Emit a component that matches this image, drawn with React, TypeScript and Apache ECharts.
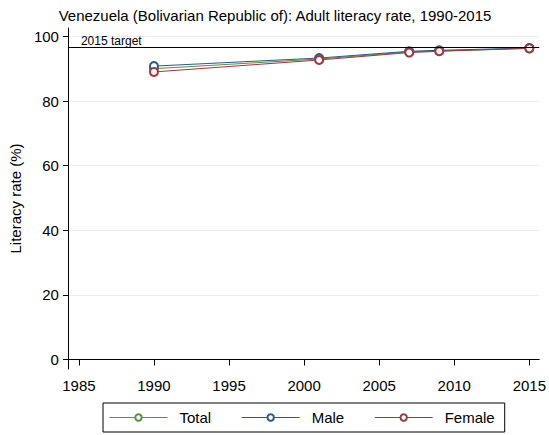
import React, { useEffect, useRef } from "react";
import * as echarts from "echarts";

const years = [1990, 2001, 2007, 2009, 2015];
const totalValues = [90.0, 93.0, 95.2, 95.5, 96.3];
const maleValues = [90.8, 93.3, 95.4, 95.7, 96.4];
const femaleValues = [89.0, 92.7, 95.0, 95.4, 96.3];
const xTicks = [1985, 1990, 1995, 2000, 2005, 2010, 2015];
const yTicks = [0, 20, 40, 60, 80, 100];
const targetValue = 96.5;

const FONT = "'Liberation Sans', Arial, sans-serif";

export default function App() {
  const ref = useRef<HTMLDivElement>(null);
  useEffect(() => {
    if (!ref.current) return;
    const chart = echarts.init(ref.current, null, { renderer: "svg" });
    const mk = (name: string, vals: number[], color: string, withTarget = false) => ({
      name,
      type: "line",
      data: years.map((y, i) => [y, vals[i]]),
      symbol: "emptyCircle",
      symbolSize: 8,
      itemStyle: { color, borderWidth: 1 },
      lineStyle: { color, width: 1 },
      z: 3,
      ...(withTarget
        ? {
            markLine: {
              silent: true,
              symbol: "none",
              lineStyle: { color: "#000", width: 1, type: "solid" },
              label: {
                formatter: "2015 target",
                position: "insideStartTop",
                color: "#000",
                fontFamily: FONT,
                fontSize: 12,
                distance: [13, 1],
              },
              data: [{ yAxis: targetValue }],
            },
          }
        : {}),
    });
    chart.setOption({
      animation: false,
      backgroundColor: "#fff",
      textStyle: { fontFamily: FONT },
      title: {
        text: "Venezuela (Bolivarian Republic of): Adult literacy rate, 1990-2015",
        left: 270,
        textAlign: "center",
        top: 3,
        textStyle: { fontFamily: FONT, fontSize: 15, fontWeight: "normal", color: "#000" },
      },
      grid: { left: 67, right: 9, top: 28, bottom: 66, containLabel: false },
      xAxis: {
        type: "value",
        min: 1984.27,
        max: 2015.66,
        axisLine: { show: true, lineStyle: { color: "#000", width: 1 } },
        axisTick: { show: true, length: 6, lineStyle: { color: "#000" }, customValues: xTicks },
        axisLabel: {
          customValues: xTicks,
          color: "#000",
          fontFamily: FONT,
          fontSize: 15,
          margin: 9,
          formatter: (v: number) => String(v),
        },
        splitLine: { show: false },
      },
      yAxis: {
        type: "value",
        min: -2.94,
        max: 102.6,
        name: "Literacy rate (%)",
        nameLocation: "middle",
        nameGap: 42,
        nameTextStyle: { fontFamily: FONT, fontSize: 15, color: "#000" },
        axisLine: { show: true, lineStyle: { color: "#000", width: 1 } },
        axisTick: { show: true, length: 5, lineStyle: { color: "#000" }, customValues: yTicks },
        axisLabel: {
          customValues: yTicks,
          color: "#000",
          fontFamily: FONT,
          fontSize: 15,
          margin: 9,
          formatter: (v: number) => String(v),
        },
        splitLine: { show: true, lineStyle: { color: "#ececec", width: 1 } },
      },
      legend: {
        data: ["Total", "Male", "Female"],
        left: 103,
        top: 403,
        itemWidth: 58,
        itemHeight: 8,
        itemGap: 30,
        borderColor: "#000",
        borderWidth: 1,
        borderRadius: 0,
        padding: [7, 10, 7, 6],
        lineStyle: { width: 1 },
        itemStyle: { borderWidth: 1 },
        textStyle: { fontFamily: FONT, fontSize: 15, color: "#000", padding: [0, 0, 0, 7] },
      },
      series: [
        mk("Total", totalValues, "#5e8f3a", true),
        mk("Male", maleValues, "#2a5a8c"),
        mk("Female", femaleValues, "#a3353e"),
      ],
    });
    return () => chart.dispose();
  }, []);
  return (
    <div
      ref={ref}
      style={{ position: "fixed", left: 0, top: 0, width: 549, height: 435 }}
    />
  );
}
